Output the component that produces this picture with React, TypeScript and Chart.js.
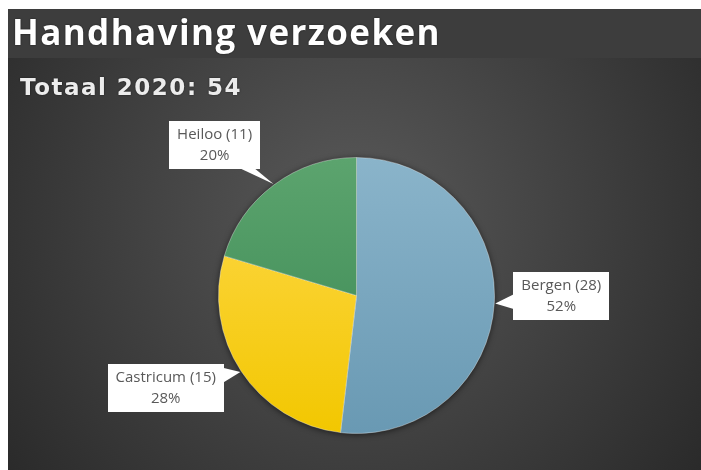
import React, { useEffect, useRef } from "react";
import { Chart, registerables } from "chart.js";

Chart.register(...registerables);

const titleText = "Handhaving verzoeken";
const subtitlePrefix = "Totaal 2020: ";
const categories = ["Bergen", "Castricum", "Heiloo"];
const values = [28, 15, 11];
const topColors = ["#8ab4ca", "#ffd94e", "#5ca46e"];
const bottomColors = ["#6999b3", "#f2c700", "#388651"];
const labelAngleOffsetDeg = [-3.2, 7.5, -6.6];
const labelDistance = [1.484, 1.536, 1.5];

const W = 693;
const H = 461;

export default function App() {
  const ref = useRef<HTMLCanvasElement | null>(null);

  useEffect(() => {
    const canvas = ref.current;
    if (!canvas) return;
    const total = values.reduce((a, b) => a + b, 0);

    const bgPlugin = {
      id: "bgPlugin",
      beforeDraw(chart: any) {
        const ctx = chart.ctx;
        ctx.save();
        const g = ctx.createRadialGradient(345, 205, 0, 345, 205, 470);
        g.addColorStop(0, "#595959");
        g.addColorStop(1, "#262626");
        ctx.fillStyle = g;
        ctx.fillRect(0, 0, chart.width, chart.height);
        ctx.fillStyle = "#3d3d3d";
        ctx.fillRect(0, 0, chart.width, 49);
        ctx.shadowColor = "rgba(0,0,0,0.6)";
        ctx.shadowBlur = 2;
        ctx.fillStyle = "#ffffff";
        ctx.textBaseline = "alphabetic";
        ctx.textAlign = "left";
        ctx.font = 'bold 35px "Open Sans"';
        (ctx as any).letterSpacing = "1.4px";
        ctx.fillText(titleText, 4, 36);
        ctx.fillStyle = "#ececec";
        ctx.font = 'bold 23px "DejaVu Sans"';
        (ctx as any).letterSpacing = "1.5px";
        ctx.fillText(subtitlePrefix + total, 12, 86);
        ctx.restore();
      },
      beforeDatasetsDraw(chart: any) {
        const meta = chart.getDatasetMeta(0);
        const a = meta.data[0];
        if (!a) return;
        const { x, y, outerRadius } = a.getProps(["x", "y", "outerRadius"], true);
        const ctx = chart.ctx;
        ctx.save();
        ctx.shadowColor = "rgba(0,0,0,0.6)";
        ctx.shadowBlur = 6;
        ctx.shadowOffsetY = 1;
        ctx.fillStyle = "#333";
        ctx.beginPath();
        ctx.arc(x, y, outerRadius, 0, Math.PI * 2);
        ctx.fill();
        ctx.restore();
      },
      afterDatasetsDraw(chart: any) {
        const meta = chart.getDatasetMeta(0);
        const ctx = chart.ctx;
        ctx.save();
        ctx.font = '15px "Open Sans"';
        meta.data.forEach((arc: any, i: number) => {
          const { x, y, startAngle, endAngle, outerRadius } = arc.getProps(
            ["x", "y", "startAngle", "endAngle", "outerRadius"],
            true
          );
          const mid = (startAngle + endAngle) / 2;
          const tx = x + Math.cos(mid) * (outerRadius + 1);
          const ty = y + Math.sin(mid) * (outerRadius + 1);
          const ang = mid + (labelAngleOffsetDeg[i] * Math.PI) / 180;
          const cx = x + Math.cos(ang) * outerRadius * labelDistance[i];
          const cy = y + Math.sin(ang) * outerRadius * labelDistance[i];
          const l1 = `${categories[i]} (${values[i]})`;
          const l2 = `${Math.round((values[i] / total) * 100)}%`;
          const tw = Math.max(ctx.measureText(l1).width, ctx.measureText(l2).width);
          const bw = Math.round(tw + 16);
          const bh = 48;
          const hw = bw / 2;
          const hh = bh / 2;
          const dx = tx - cx;
          const dy = ty - cy;
          const tX = Math.abs(dx) > 0 ? hw / Math.abs(dx) : Infinity;
          const tY = Math.abs(dy) > 0 ? hh / Math.abs(dy) : Infinity;
          let b1x, b1y, b2x, b2y;
          const pw = 8;
          if (tX < tY) {
            const ex = cx + dx * tX;
            const ey = cy + dy * tX;
            const e1 = Math.max(cy - hh, Math.min(cy + hh, ey - pw));
            const e2 = Math.max(cy - hh, Math.min(cy + hh, ey + pw));
            const ix = ex - Math.sign(dx) * 2;
            b1x = ix; b1y = e1; b2x = ix; b2y = e2;
          } else {
            const ex = cx + dx * tY;
            const ey = cy + dy * tY;
            const e1 = Math.max(cx - hw, Math.min(cx + hw, ex - pw - 6));
            const e2 = Math.max(cx - hw, Math.min(cx + hw, ex + pw - 6));
            const iy = ey - Math.sign(dy) * 2;
            b1x = e1; b1y = iy; b2x = e2; b2y = iy;
          }
          ctx.fillStyle = "#ffffff";
          ctx.beginPath();
          ctx.moveTo(tx, ty);
          ctx.lineTo(b1x, b1y);
          ctx.lineTo(b2x, b2y);
          ctx.closePath();
          ctx.fill();
          ctx.fillRect(Math.round(cx - hw), Math.round(cy - hh), bw, bh);
          ctx.fillStyle = "#595959";
          ctx.textAlign = "center";
          ctx.textBaseline = "middle";
          ctx.fillText(l1, cx, cy - 10);
          ctx.fillText(l2, cx, cy + 11);
        });
        ctx.restore();
      },
    };

    const chart = new Chart(canvas, {
      type: "pie",
      data: {
        labels: categories,
        datasets: [
          {
            data: values,
            backgroundColor: (c: any) => {
              const chartArea = c.chart.chartArea;
              const i = c.dataIndex;
              if (!chartArea) return bottomColors[i];
              const g = c.chart.ctx.createLinearGradient(0, chartArea.top, 0, chartArea.bottom);
              g.addColorStop(0, topColors[i]);
              g.addColorStop(1, bottomColors[i]);
              return g;
            },
            borderColor: "rgba(255,255,255,0.35)",
            borderWidth: 1,
          },
        ],
      },
      options: {
        responsive: false,
        animation: false,
        devicePixelRatio: 1,
        layout: { padding: { top: 148, bottom: 36, left: 4, right: 0 } },
        plugins: {
          legend: { display: false },
          tooltip: { enabled: false },
          title: { display: false },
        },
      },
      plugins: [bgPlugin],
    });
    return () => chart.destroy();
  }, []);

  return (
    <div style={{ position: "fixed", left: 8, top: 9, width: W, height: H }}>
      <canvas ref={ref} width={W} height={H} style={{ width: W, height: H, display: "block" }} />
    </div>
  );
}
